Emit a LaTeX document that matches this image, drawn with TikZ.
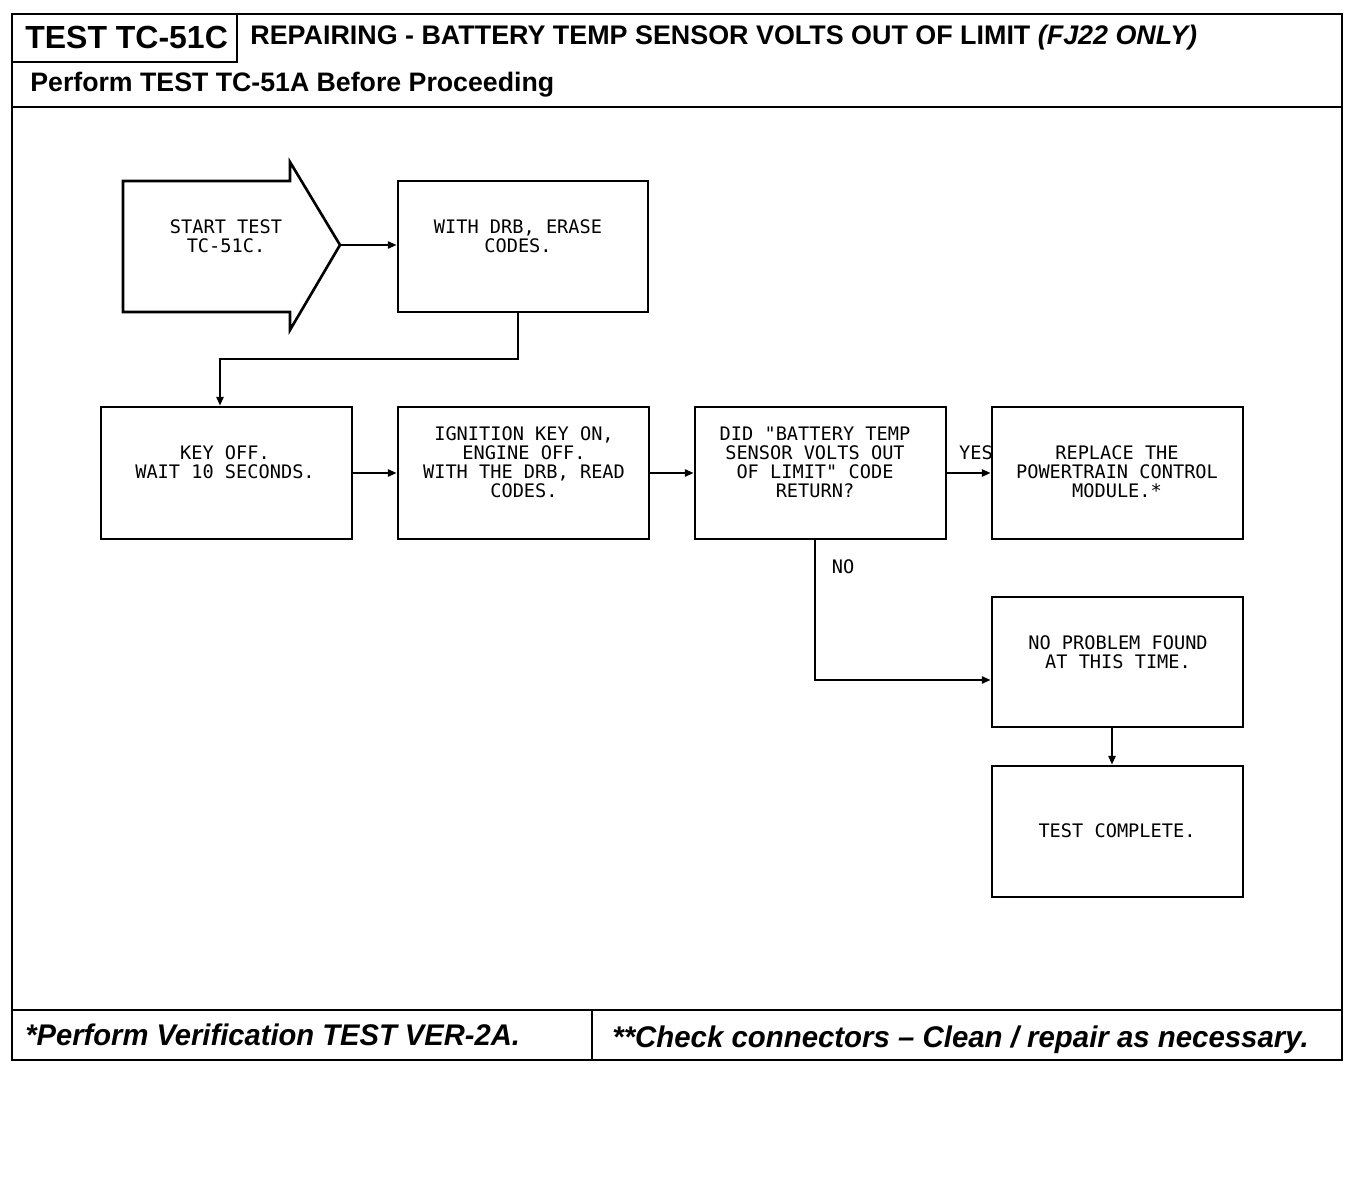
\documentclass[tikz,border=0pt]{standalone}
\usepackage{fontspec}
\usepackage{graphicx}
\setmainfont{Liberation Sans}
\newfontfamily\plotfont{DejaVu Sans Mono}
\usetikzlibrary{arrows.meta,fit}
\begin{document}
\begin{tikzpicture}[x=0.02cm,y=-0.02cm,
  frame/.style={line width=1.6pt},
  box/.style={draw,line width=1.5pt,inner sep=0pt,rectangle},
  txt/.style={font=\plotfont\fontsize{10.6}{10.8}\selectfont,align=center,inner sep=0pt},
  conn/.style={line width=1.3pt,-{Triangle[length=5pt,width=4pt]}},
  hdr/.style={inner sep=0pt,anchor=base west}]
\useasboundingbox (0,0) rectangle (1360,1196);
% frame
\draw[frame] (12,14) rectangle (1342,1060);
\draw[frame] (12,62) -- (237,62) -- (237,14);
\draw[frame] (12,107) -- (1342,107);
\draw[frame] (12,1010) -- (1342,1010);
\draw[frame] (592,1010) -- (592,1060);
% header texts
\node[hdr,font=\bfseries\fontsize{18.2}{20}\selectfont] (title) at (25,49) {TEST TC-51C};
\node[hdr,font=\bfseries\fontsize{15.3}{17}\selectfont] (subtitle) at (250,45) {REPAIRING - BATTERY TEMP SENSOR VOLTS OUT OF LIMIT \textit{(FJ22 ONLY)}};
\node[hdr,font=\bfseries\fontsize{15.2}{17}\selectfont] (pre) at (30,92) {Perform TEST TC-51A Before Proceeding};
\node[hdr,font=\bfseries\itshape\fontsize{17}{19}\selectfont] (foot1) at (25,1045) {\scalebox{0.976}[1]{*Perform Verification TEST VER-2A.}};
\node[hdr,font=\bfseries\itshape\fontsize{17}{19}\selectfont] (foot2) at (612,1047) {\scalebox{0.984}[1]{**Check connectors -- Clean / repair as necessary.}};
% start arrow
\draw[box] (123,181) -- (290,181) -- (290,162) -- (340,245) -- (290,330) -- (290,312) -- (123,312) -- cycle;
\coordinate (starttip) at (340,245);
\node[txt] (tstart) at (226,236) {START TEST\\TC-51C.};
% boxes
\node[box,fit={(398,181) (648,312)}] (A) {};
\node[txt] (tA) at (518,236) {WITH DRB, ERASE\\CODES.};
\node[box,fit={(101,407) (352,539)}] (B) {};
\node[txt] (tB) at (225,462) {KEY OFF.\\WAIT 10 SECONDS.};
\node[box,fit={(398,407) (649,539)}] (C) {};
\node[txt] (tC) at (524,462) {IGNITION KEY ON,\\ENGINE OFF.\\WITH THE DRB, READ\\CODES.};
\node[box,fit={(695,407) (946,539)}] (D) {};
\node[txt] (tD) at (815,462) {DID "BATTERY TEMP\\SENSOR VOLTS OUT\\OF LIMIT" CODE\\RETURN?};
\node[box,fit={(992,407) (1243,539)}] (E) {};
\node[txt] (tE) at (1117,472) {REPLACE THE\\POWERTRAIN CONTROL\\MODULE.*};
\node[box,fit={(992,597) (1243,727)}] (F) {};
\node[txt] (tF) at (1118,652) {NO PROBLEM FOUND\\AT THIS TIME.};
\node[box,fit={(992,766) (1243,897)}] (G) {};
\node[txt] (tG) at (1117,831) {TEST COMPLETE.};
% connectors
\coordinate (nox) at (815,0);
\coordinate (Ax) at (518,0);
\coordinate (Bx) at (220,0);
\coordinate (Fx) at (1112,0);
\draw[conn] (starttip) -- (starttip -| A.west);
\draw[conn] (A.south -| Ax) -- ++(0,46) -| (B.north -| Bx);
\draw[conn] (B.east) -- (C.west);
\draw[conn] (C.east) -- (D.west);
\draw[conn] (D.east) -- (E.west);
\draw[conn] (D.south -| nox) |- ([yshift=-0.36cm]F.west);
\draw[conn] (F.south -| Fx) -- (G.north -| Fx);
\node[txt] (yes) at (976,453) {YES};
\node[txt] (no) at (843,567) {NO};
\end{tikzpicture}
\end{document}
